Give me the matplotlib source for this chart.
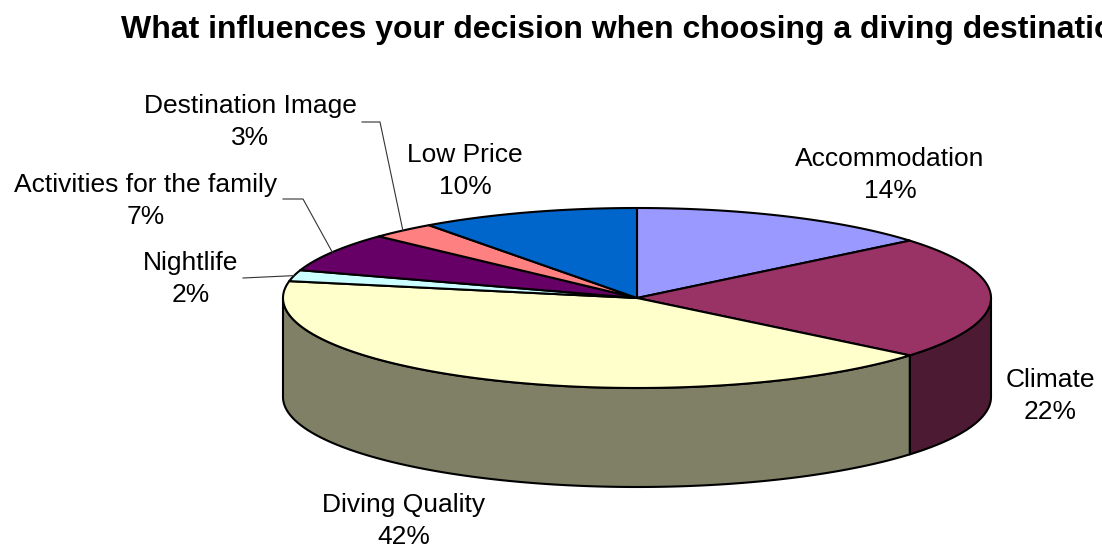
import numpy as np
import matplotlib
matplotlib.use("Agg")
import matplotlib.pyplot as plt
from matplotlib.patches import Polygon

# ================== Données ==================

names = ["Accommodation", "Climate", "Diving Quality", "Nightlife",
         "Activities for the family", "Destination Image", "Low Price"]
shares = [14, 22, 42, 2, 7, 3, 10]
colors = ["#9999FF", "#993366", "#FFFFCC", "#CCFFFF",
          "#660066", "#FF8080", "#0066CC"]

# label placement (centre x, baseline of first line) in pixels
label_pos = [(890, 166), (1050, 387), (404, 512), (191, 270),
             (146, 192), (250, 113), (465, 162)]
# leader lines: start point and knee x (None = straight)
leaders = {3: ((243, 278), None), 4: ((283, 199), 303), 5: ((362, 122), 380)}

# pie geometry (pixels)
cx, cy = 637, 298
rx, ry = 354, 90
depth = 99

plt.rcParams['font.family'] = ['Liberation Sans', 'DejaVu Sans']

fig = plt.figure(figsize=(11.02, 5.49), dpi=100)
ax = fig.add_axes([0, 0, 1, 1])
ax.set_xlim(0, 1102)
ax.set_ylim(549, 0)
ax.axis('off')


def ell(t, dy=0):
    t = np.radians(t)
    return cx + rx * np.sin(t), cy - ry * np.cos(t) + dy


def darker(c, f=0.5):
    r, g, b = matplotlib.colors.to_rgb(c)
    return (r * f, g * f, b * f)


bounds = np.concatenate([[0], np.cumsum(shares)]) * 3.6

# ================== Faces latérales ==================
for i in range(len(shares)):
    a, b = max(bounds[i], 90), min(bounds[i + 1], 270)
    if b <= a:
        continue
    t = np.linspace(a, b, 200)
    xt, yt = ell(t)
    xb, yb = ell(t[::-1], depth)
    pts = np.column_stack([np.concatenate([xt, xb]), np.concatenate([yt, yb])])
    ax.add_patch(Polygon(pts, closed=True, fc=darker(colors[i]), ec='black',
                         lw=1.5, joinstyle='round'))

# ================== Dessus ==================
for i in range(len(shares)):
    t = np.linspace(bounds[i], bounds[i + 1], 200)
    xt, yt = ell(t)
    pts = np.column_stack([np.concatenate([[cx], xt]), np.concatenate([[cy], yt])])
    ax.add_patch(Polygon(pts, closed=True, fc=colors[i], ec='black',
                         lw=1.5, joinstyle='round'))

# ================== Etiquettes ==================
for i, (name, s) in enumerate(zip(names, shares)):
    x, y = label_pos[i]
    ax.text(x, y, name, ha='center', va='baseline', fontsize=19)
    ax.text(x, y + 32, f"{s}%", ha='center', va='baseline', fontsize=19)
    if i in leaders:
        (sx, sy), knee = leaders[i]
        ex, ey = ell((bounds[i] + bounds[i + 1]) / 2)
        if knee is None:
            ax.plot([sx, ex], [sy, ey], color='#333333', lw=0.8)
        else:
            ax.plot([sx, knee, ex], [sy, sy, ey], color='#333333', lw=0.8)

ax.text(121, 38, "What influences your decision when choosing a diving destination?",
        ha='left', va='baseline', fontsize=23, fontweight='bold')

fig.savefig("out.png", dpi=100)
